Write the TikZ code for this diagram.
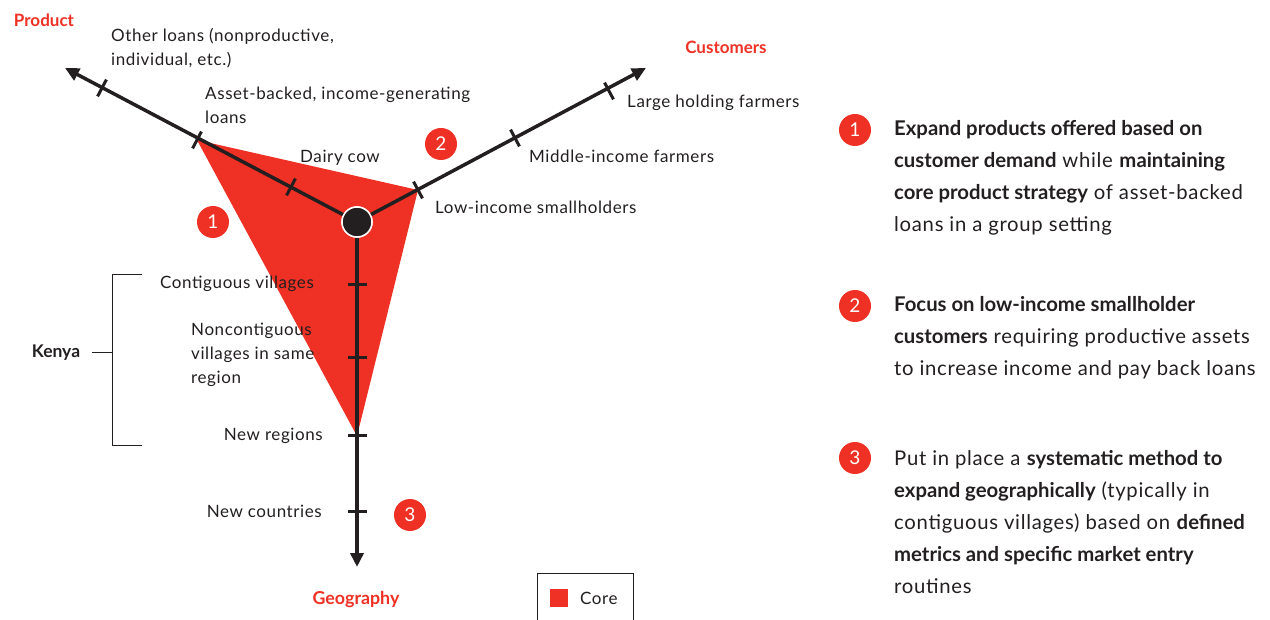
\documentclass[tikz,border=0pt]{standalone}
\usepackage{fontspec}
\setmainfont{Lato}[UprightFeatures={LetterSpace=3.5}, BoldFeatures={LetterSpace=0}]
\usetikzlibrary{arrows.meta}
\definecolor{brandred}{HTML}{EE3124}
\definecolor{ink}{HTML}{231F20}
\begin{document}
\begin{tikzpicture}[x=1pt,y=-1pt,
  axisline/.style={line width=3.5pt, draw=ink, -{Triangle[length=14pt,width=13pt]}},
  tickmark/.style={fill=ink, inner sep=0pt, minimum width=3pt, minimum height=19pt},
  badge/.style={circle, fill=brandred, text=white, inner sep=0pt, minimum size=32pt, font=\fontsize{19}{19}\selectfont},
  lbl/.style={text=ink, font=\fontsize{17}{24}\selectfont, align=left, inner sep=0pt, anchor=west},
  head/.style={text=brandred, font=\bfseries\fontsize{17}{20}\selectfont, inner sep=0pt},
  body/.style={text=ink, font=\fontsize{20.3}{32}\selectfont, align=left, inner sep=0pt, anchor=west},
  bracketline/.style={draw=ink, line width=1pt}
]
\useasboundingbox (0,0) rectangle (1270,620);

% key points
\coordinate (ptip) at (65,68);
\coordinate (ctip) at (646,68);
\coordinate (gtip) at (357,567);
\coordinate (p1) at (291,187);
\coordinate (p2) at (197,140);
\coordinate (p3) at (102,88);
\coordinate (c1) at (418,190);
\coordinate (c2) at (515,138);
\coordinate (c3) at (609,91);
\coordinate (g1) at (357,285);
\coordinate (g2) at (357,358);
\coordinate (g3) at (357,436);
\coordinate (g4) at (357,511);

% core polygon
\fill[brandred] (p2) -- (c1) -- (g3) -- cycle;

% center
\node[circle, fill=ink, draw=white, line width=1.5pt, minimum size=30pt, inner sep=0pt] (c) at (357,222) {};

% axes
\draw[axisline] (c) -- (ptip);
\draw[axisline] (c) -- (ctip);
\draw[axisline] (c) -- (gtip);
\node[circle, fill=ink, draw=white, line width=1.5pt, minimum size=30pt, inner sep=0pt] (cdot) at (c) {};

% ticks
\foreach \t in {p1,p2,p3} \node[tickmark, rotate=152.2] (t\t) at (\t) {};
\foreach \t in {c1,c2,c3} \node[tickmark, rotate=28.05] (t\t) at (\t) {};
\foreach \t in {g1,g2,g3,g4} \node[tickmark, rotate=90] (t\t) at (\t) {};

% axis headings
\node[head] (hprod) at (44,20) {Product};
\node[head] (hcust) at (726,47) {Customers};
\node[head, font=\bfseries\fontsize{17.8}{20}\selectfont] (hgeo) at (356,599) {Geography};

% product labels
\node[lbl] (lother) at (111,48) {Other loans (nonproductive,\\individual, etc.)};
\node[lbl] (lasset) at (205,105) {Asset-backed, income-generating\\loans};
\node[lbl] (ldairy) at (300,158) {Dairy cow};

% customer labels
\node[lbl] (llarge) at (627,103) {Large holding farmers};
\node[lbl] (lmid) at (529,156) {Middle-income farmers};
\node[lbl] (llow) at (435,207) {Low-income smallholders};

% geography labels
\node[lbl] (lcont) at (160,284) {Contiguous villages};
\node[lbl] (lnon) at (191,355) {Noncontiguous\\villages in same\\region};
\node[lbl, anchor=east] (lreg) at (323,436) {New regions};
\node[lbl, anchor=east] (lcountry) at (322,511) {New countries};

% Kenya bracket
\node[text=ink, font=\bfseries\fontsize{17.5}{20}\selectfont, inner sep=0pt] (kenya) at (56,353) {Kenya};
\coordinate (bt) at (142,275);
\coordinate (btl) at (112,275);
\coordinate (bbl) at (112,445);
\coordinate (bb) at (142,445);
\coordinate (bm) at (112,353);
\coordinate (dm) at (92,353);
\draw[bracketline] (bt) -- (btl) -- (bbl) -- (bb);
\draw[bracketline] (dm) -- (bm);

% badges on diagram
\node[badge] (b1) at (213,222) {1};
\node[badge] (b2) at (441,144) {2};
\node[badge] (b3) at (410,515) {3};

% legend
\node[draw=ink, line width=1pt, minimum width=96pt, minimum height=60pt, anchor=north west, inner sep=0pt] (legend) at (537,573) {};
\node[fill=brandred, minimum size=18pt, inner sep=0pt] (legsq) at (559,598) {};
\node[lbl] (legtxt) at (580,598) {Core};

% right column
\node[badge] (r1) at (855,130) {1};
\node[badge] (r2) at (855,306) {2};
\node[badge] (r3) at (855,458) {3};
\node[body] (t1) at (894,178) {\textbf{Expand products offered based on}\\\textbf{customer demand} while \textbf{maintaining}\\\textbf{core product strategy} of asset-backed\\loans in a group setting};
\node[body] (t2) at (894,338) {\textbf{Focus on low-income smallholder}\\\textbf{customers} requiring productive assets\\to increase income and pay back loans};
\node[body] (t3) at (894,522) {Put in place a \textbf{systematic method to}\\\textbf{expand geographically} (typically in\\contiguous villages) based on \textbf{defined}\\\textbf{metrics and specific market entry}\\routines};
\end{tikzpicture}
\end{document}
